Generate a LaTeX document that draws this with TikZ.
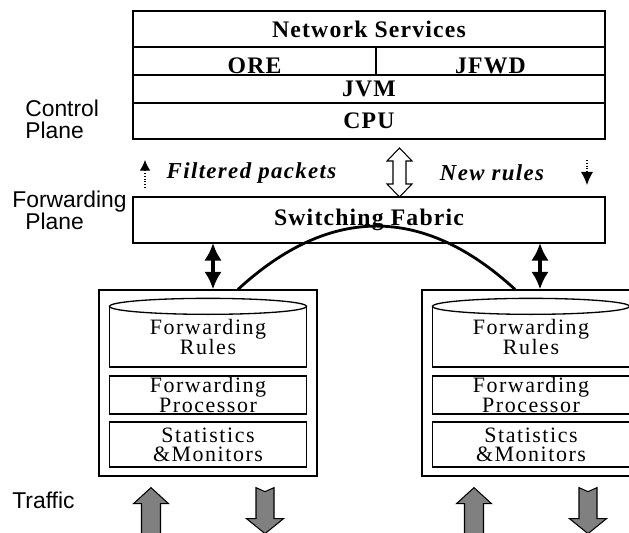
\documentclass[tikz,border=0pt]{standalone}
\usepackage{fontspec}
\setmainfont{Liberation Serif}
\setsansfont{Liberation Sans}
\newfontfamily\layerfont[LetterSpace=5]{Liberation Serif}
\newfontfamily\rtrfont[LetterSpace=7]{Liberation Serif}
\newfontfamily\notefont[LetterSpace=6]{Liberation Serif}
\usetikzlibrary{arrows.meta, positioning, calc}

\begin{document}
\begin{tikzpicture}[
    x=0.02cm, y=-0.02cm,
    layer/.style={rectangle, draw, line width=0.75pt, inner sep=0pt, outer sep=0pt, font=\layerfont\bfseries\fontsize{13.5}{15}\selectfont},
    router/.style={rectangle, draw, line width=0.75pt, minimum width=4.36cm, minimum height=3.72cm},
    unit/.style={rectangle, draw, line width=0.75pt, fill=white, minimum width=3.94cm, inner sep=0pt, align=center, font={\rtrfont\fontsize{12.5}{11}\selectfont\lineskiplimit=-10pt}},
    plane/.style={font=\sffamily\fontsize{13}{12.5}\selectfont, align=left, inner sep=0pt},
    note/.style={font=\notefont\bfseries\itshape\fontsize{13}{15}\selectfont, inner sep=0pt},
    busarrow/.style={line width=2.2pt, {Latex[length=10pt,width=10pt]}-{Latex[length=10pt,width=10pt]}},
    link/.style={line width=1.6pt},
    hint/.style={densely dotted, line width=0.6pt},
    hollow/.style={draw, line width=0.6pt, fill=white},
    traffic/.style={draw, line width=0.6pt, fill=gray}
]
\clip (0,0) rectangle (629,533);

% control plane stack
\node[layer, minimum width=9.44cm, minimum height=0.72cm] (netsvc) at (369,29) {Network Services};
\node[layer, minimum width=4.86cm, minimum height=0.56cm, text height=14pt, text depth=0pt, anchor=north west] (ore) at (netsvc.south west) {ORE};
\node[layer, minimum width=4.58cm, minimum height=0.56cm, text height=14pt, text depth=0pt, anchor=north east] (jfwd) at (netsvc.south east) {JFWD};
\node[layer, minimum width=9.44cm, minimum height=0.56cm, anchor=north west] (jvm) at (ore.south west) {JVM};
\node[layer, minimum width=9.44cm, minimum height=0.72cm, line width=1pt, anchor=north west] (cpu) at (jvm.south west) {CPU};

% forwarding plane
\node[layer, minimum width=9.44cm, minimum height=0.92cm] (fabric) at (369,220) {Switching Fabric};

% plane labels
\node[plane, anchor=west] (ctrlplane) at (25,119) {Control\\Plane};
\node[plane, anchor=west] (fwdplane) at (12,210.5) {Forwarding\\\hspace*{7.4pt}Plane};
\node[plane, anchor=base west] (traffic) at (12,508) {Traffic};

% between the planes
\node[note] (filtered) at (251.5,173) {Filtered packets};
\node[note] (newrules) at (492,173) {New rules};
\coordinate (fptail) at (145,188);
\coordinate (fptip) at (145,160);
\coordinate (nrtail) at (587,160);
\coordinate (nrtip) at (587,185);
\draw[hint, -{Latex[length=6pt,width=6pt]}] (fptail) -- (fptip);
\draw[hint, -{Latex[length=7.5pt,width=7pt]}] (nrtail) -- (nrtip);
\coordinate (cp) at (399.5,172.5);
\draw[hollow, shift={(cp)}] (-6.5,-11.5) -- (-12.5,-11.5) -- (0,-24.5) -- (12.5,-11.5) -- (6.5,-11.5)
    -- (6.5,11.5) -- (12.5,11.5) -- (0,24.5) -- (-12.5,11.5) -- (-6.5,11.5) -- cycle;

% the two forwarding elements
\foreach \side/\xc/\dx in {L/208/5, R/531/9} {
  \node[router] (rtr\side) at (\xc,383) {};
  \node[unit, minimum height=1.2cm] (rules\side) at (\xc,337) {Forwarding\\Rules};
  \draw[line width=0.75pt, fill=white] (rules\side.north) ellipse [x radius=1.97cm, y radius=0.16cm];
  \node[unit, minimum height=0.76cm] (proc\side) at (\xc,395) {Forwarding\\Processor};
  \node[unit, minimum height=0.9cm] (stat\side) at (\xc,444.5) {Statistics\\\&Monitors};
  \coordinate (port\side) at ($(rtr\side.north)+(\dx,0)$);
  \draw[busarrow] (port\side |- fabric.south) -- (port\side);
  % traffic in and out
  \draw[traffic, shift={($(rtr\side.south)+(-57,11)$)}] (0,0) -- (17.5,16) -- (9.5,16) -- (9.5,60)
      -- (-9.5,60) -- (-9.5,16) -- (-17.5,16) -- cycle;
  \draw[traffic, shift={($(rtr\side.south)+(57,11)$)}] (-9,0) -- (0,4) -- (9,0) -- (9,31) -- (18.5,31)
      -- (0,46) -- (-18.5,31) -- (-9,31) -- cycle;
}

% link between the elements
\draw[link] ($(rtrL.north)+(30,0)$) .. controls (330,205) and (423,205) .. ($(rtrR.north)+(-16,0)$);

\end{tikzpicture}
\end{document}
